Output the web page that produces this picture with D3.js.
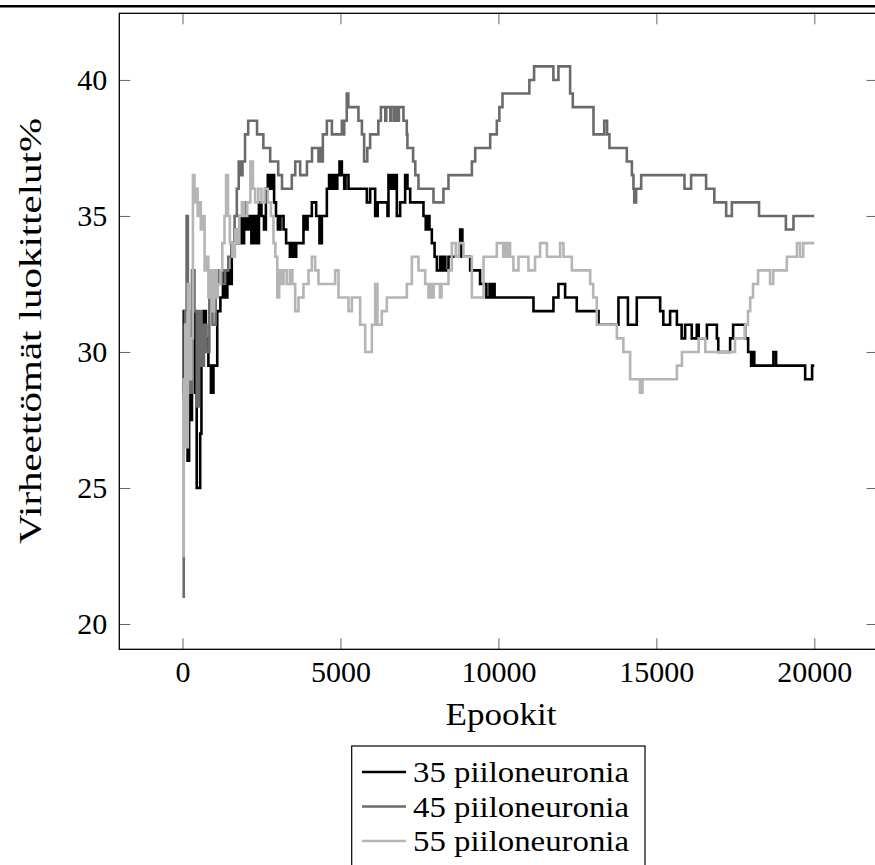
<!DOCTYPE html>
<html>
<head>
<meta charset="utf-8">
<script src="https://cdn.jsdelivr.net/npm/d3@7"></script>
<style>
  body { margin: 0; background: #fff; }
  svg { display: block; }
</style>
</head>
<body>
<div id="chart"></div>
<script>
// epochs + accuracy (%) at each change point
const epochs35 = [0,40,80,130,160,210,250,300,360,400,450,560,600,660,740,820,900,980,1100,1200,1280,1350,1420,1500,1560,1650,1720,1800,1880,1950,2020,2100,2180,2260,2340,2420,2500,2580,2640,2700,2780,2840,2900,2960,3020,3100,3200,3280,3400,3480,3540,3600,3830,3880,3960,4094,4232,4336,4412,4570,4640,4700,4760,4830,4900,4970,5045,5120,5160,5255,5836,5941,6099,6180,6489,6520,6600,6650,6710,6760,6785,6890,7048,7122,7207,7628,7700,7740,7818,7893,7980,8052,8156,8200,8283,8320,8420,8790,8860,9106,9420,9620,9720,9760,9830,9880,11110,11742,11900,12112,12480,13170,13800,14100,14380,15120,15220,15435,15650,15800,15910,16120,16280,16340,16600,16915,16960,17335,17430,17810,17905,18000,18050,18100,18705,18790,19710,19930,20000];
const acc35 = [28.5,31.5,27.5,29.5,26,29,27.5,30.5,31.5,28.5,25,27,30,31.5,30.5,29.5,28.5,29.5,31.5,32,33,32,33,32.5,34,34.5,34,35,34,35.5,34.5,35,34,35,34,35.5,35,34.5,36,36.5,36,36.5,35.5,35,34.5,35,34.5,34,33.5,34,33.5,34,35,34.5,35,35.5,35,34,35,36,36.5,36,36.5,36,36.5,37,36.5,36,36.5,36,35.5,36,35,35.5,35,36.5,36,36.5,36,36.5,35,35.5,36.5,36,35.5,35,34.5,35,34.5,34,33.5,33,33.5,33,33.5,33,33.5,34.5,33.5,33,32.5,32,32.5,32,32.5,32,31.5,32,32.5,32,31.5,31,32,31,32,31.5,31,31.5,31,30.5,31,30.5,31,30.5,31,30.5,30,30.5,31,30.5,30,29.5,30,29.5,30,29.5,29,29.5,29.5];

const epochs45 = [0,40,80,130,170,230,300,380,450,520,600,680,760,850,950,1050,1150,1250,1350,1450,1550,1650,1720,1780,1850,1900,1980,2080,2360,2560,2776,3030,3150,3460,3570,3725,3940,4100,4305,4350,4380,4443,4570,4730,5045,5080,5120,5200,5250,5570,5680,5750,5850,5940,6200,6280,6420,6450,6580,6610,6700,6750,6800,6850,6995,7100,7120,7300,7370,7470,7945,8260,8420,9160,9265,9740,9950,10030,10130,10980,11130,11740,11900,12270,12355,13010,13350,13440,13515,14065,14225,14275,14300,14360,14520,15890,16100,16575,16835,17210,17390,18250,19100,19340,20000];
const acc45 = [21,29,31.5,35,31.5,28.5,33,31.5,28,31.5,29.5,31,30,33,31,32.5,33,32.5,33,33.5,34,35,36,37,36.5,37,38,38.5,38,37.5,37,36.5,36,36.5,37,36.5,37,37.5,37,37.5,37,38,38.5,38,38.5,38,38.5,39.5,39,38.5,38,37,37.5,38,38.5,39,38.5,39,38.5,39,38.5,39,38.5,39,38.5,38,37.5,37,36.5,36,35.5,36,36.5,37,37.5,38,38.5,39,39.5,40,40.5,40,40.5,39.5,39,38,38.5,38,37.5,37,36.5,36,35.5,36,36.5,36,36.5,36,35.5,35,35.5,35,34.5,35,35];

const epochs55 = [0,40,80,120,170,220,280,330,380,430,480,530,580,640,700,760,820,880,940,1000,1060,1120,1200,1260,1330,1380,1440,1500,1580,1660,1740,1800,1880,1960,2050,2150,2230,2300,2400,2500,2600,2700,2800,2880,2940,3000,3060,3130,3200,3300,3400,3480,3567,3672,3830,3988,4094,4200,4305,4833,4938,5255,5361,5624,5783,5994,6099,6172,6310,6468,7102,7260,7470,7682,7786,7840,7900,7950,8150,8200,8420,8526,8650,8750,8894,9160,9530,9950,10150,10200,10280,10330,10370,10475,10635,10950,11160,11320,11535,11955,12060,12325,12905,13000,13115,13750,13955,14170,14480,14560,15650,15810,16340,16550,17490,17810,17900,17970,18060,18220,18600,18700,19130,19450,19550,19650,20000];
const acc55 = [22.5,29,31,26.5,32.5,29,30.5,36.5,35.5,36,35,35.5,34.5,35,33,33.5,32,33,31.5,33,32,32.5,33,34,35,36.5,35,34,33.5,34.5,34,35,35.5,35,35.5,37,36,35.5,36,35.5,36,35.5,35,34,33.5,32,33,32.5,33,32.5,33,32.5,31.5,32,32.5,33,33.5,33,32.5,33,32,31.5,32,31,30,31,32.5,31,31.5,32,32.5,33.5,33,32.5,32,32.5,32,32.5,32,32.5,33,34,33.5,34,33.5,32,33.5,34,33.5,34,33.5,34,33.5,33,33.5,33,33.5,34,33.5,34,33.5,33,32.5,32,31,30.5,30,29,28.5,29,29.5,30,30.5,30,30.5,31,31.5,32,32.5,33,32.5,33,33.5,34,33.5,34,34];

const seriesNames = ["35 piiloneuronia", "45 piiloneuronia", "55 piiloneuronia"];
const seriesColors = ["#000000", "#6b6b6b", "#b5b5b5"];

const xTicks = [0, 5000, 10000, 15000, 20000];
const yTicks = [20, 25, 30, 35, 40];
const xLabel = "Epookit";
const yLabel = "Virheettömät luokittelut%";

const serif = '"Liberation Serif", "Times New Roman", Times, "DejaVu Serif", "Noto Serif", serif';

const W = 875, H = 865;
const plot = { left: 119.3, right: 877.5, top: 13.3, bottom: 649.3 };

const svg = d3.select("#chart").append("svg")
  .attr("width", W).attr("height", H);

// thick rule across the top of the page
svg.append("line")
  .attr("x1", 0).attr("x2", W).attr("y1", 6.3).attr("y2", 6.3)
  .attr("stroke", "#000").attr("stroke-width", 2.4);

const x = d3.scaleLinear().domain([-2000, 22000]).range([plot.left, plot.right]);
const y = d3.scaleLinear().domain([19.07, 42.45]).range([plot.bottom, plot.top]);

svg.append("clipPath").attr("id", "plotclip")
  .append("rect")
  .attr("x", plot.left).attr("y", plot.top)
  .attr("width", plot.right - plot.left).attr("height", plot.bottom - plot.top);

const styleAxis = (g) => {
  g.attr("font-family", null).attr("font-size", null);
  g.select(".domain").remove();
  g.selectAll(".tick line").attr("stroke", "#555").attr("stroke-width", 0.9);
  g.selectAll(".tick text")
    .style("font-family", serif)
    .style("font-size", "30px")
    .attr("fill", "#000");
};

svg.append("g").attr("transform", `translate(0,${plot.bottom})`)
  .call(d3.axisBottom(x).tickValues(xTicks).tickSize(-11).tickPadding(11).tickFormat(d3.format("d")))
  .call(styleAxis);
svg.append("g").attr("transform", `translate(0,${plot.top})`)
  .call(d3.axisTop(x).tickValues(xTicks).tickSize(-11).tickFormat(""))
  .call(styleAxis);
svg.append("g").attr("transform", `translate(${plot.left},0)`)
  .call(d3.axisLeft(y).tickValues(yTicks).tickSize(-11).tickPadding(12).tickFormat(d3.format("d")))
  .call(styleAxis);
svg.append("g").attr("transform", `translate(${plot.right},0)`)
  .call(d3.axisRight(y).tickValues(yTicks).tickSize(-11).tickFormat(""))
  .call(styleAxis);

const line = d3.line()
  .x((d) => x(d[0]))
  .y((d) => y(d[1]))
  .curve(d3.curveStepAfter);

const allSeries = [
  d3.zip(epochs35, acc35),
  d3.zip(epochs45, acc45),
  d3.zip(epochs55, acc55)
];

const lines = svg.append("g").attr("clip-path", "url(#plotclip)");
allSeries.forEach((s, i) => {
  lines.append("path")
    .datum(s)
    .attr("fill", "none")
    .attr("stroke", seriesColors[i])
    .attr("stroke-width", 2.6)
    .attr("d", line);
});

// frame
svg.append("rect")
  .attr("x", plot.left).attr("y", plot.top)
  .attr("width", plot.right - plot.left).attr("height", plot.bottom - plot.top)
  .attr("fill", "none").attr("stroke", "#000").attr("stroke-width", 1.3);

svg.append("text")
  .attr("x", 501).attr("y", 725)
  .attr("text-anchor", "middle")
  .attr("textLength", 111).attr("lengthAdjust", "spacingAndGlyphs")
  .style("font-family", serif).style("font-size", "31px")
  .text(xLabel);

svg.append("text")
  .attr("transform", "translate(41,331) rotate(-90)")
  .attr("text-anchor", "middle")
  .attr("textLength", 426).attr("lengthAdjust", "spacingAndGlyphs")
  .style("font-family", serif).style("font-size", "32px")
  .text(yLabel);

// legend
const legend = svg.append("g");
legend.append("rect")
  .attr("x", 351.7).attr("y", 746)
  .attr("width", 645 - 351.7).attr("height", 140)
  .attr("fill", "#fff").attr("stroke", "#000").attr("stroke-width", 1.2);

seriesNames.forEach((name, i) => {
  const base = 782 + i * 34.5;
  legend.append("line")
    .attr("x1", 362).attr("x2", 406)
    .attr("y1", base - 10).attr("y2", base - 10)
    .attr("stroke", seriesColors[i]).attr("stroke-width", 2.6);
  legend.append("text")
    .attr("x", 413).attr("y", base)
    .attr("textLength", 216).attr("lengthAdjust", "spacingAndGlyphs")
    .style("font-family", serif).style("font-size", "30px")
    .text(name);
});
</script>
</body>
</html>
